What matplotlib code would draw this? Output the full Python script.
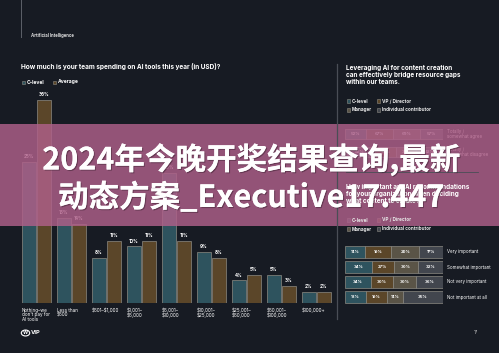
import matplotlib
matplotlib.use('Agg')
from matplotlib import pyplot as plt
from matplotlib.patches import Rectangle, Circle
import matplotlib.patheffects as pe
import numpy as np

# left chart: team spending on AI tools
categories = ['Nothing\u2013we\ndon\'t pay for\nAI tools', 'Less than\n\\$500', '\\$501\u2013\\$1,000',
              '\\$1,001\u2013\n\\$5,000', '\\$5,001\u2013\n\\$10,000', '\\$10,001\u2013\n\\$25,000',
              '\\$25,001\u2013\n\\$50,000', '\\$50,001\u2013\n\\$100,000', '\\$100,000+']
clevel = [25, 15, 8, 10, 23, 9, 4, 5, 2]
average = [36, 14, 11, 11, 11, 8, 5, 3, 2]

# right charts
roles = ['C-level', 'VP / Director', 'Manager', 'Individual contributor']
agree_rows = ['Totally /\nsomewhat agree', 'Totally /\nsomewhat disagree']
agree_vals = [[52, 67, 69, 57], [48, 33, 31, 43]]
importance_rows = ['Very important', 'Somewhat important', 'Not very important', 'Not important at all']
importance_vals = [[14, 19, 20, 17], [34, 27, 30, 32], [34, 30, 30, 36], [18, 19, 14, 35]]

W, H = 499, 353
BG = '#171b23'
TEAL = '#2e535e'
BROWN = '#5b4629'
MGR = '#5a5447'
IC = '#42464e'
role_colors = [TEAL, BROWN, MGR, IC]
EDGE = '#8c8a82'
FONT = 'Inter'

fig = plt.figure(figsize=(W / 100, H / 100), dpi=100, facecolor=BG)


def px(x, y):
    return x / W, 1 - y / H


def add_ax(x0, y0, x1, y1):
    # pixel box (top-left origin) -> axes
    ax = fig.add_axes([x0 / W, 1 - y1 / H, (x1 - x0) / W, (y1 - y0) / H])
    ax.set_facecolor('none')
    ax.axis('off')
    return ax


def txt(x, y, s, size, **kw):
    kw.setdefault('color', 'white')
    kw.setdefault('family', FONT)
    fig.text(*px(x, y), s, fontsize=size, **kw)


# header
fig.add_artist(plt.Line2D([21 / W, 21 / W], [1, 1 - 37 / H], color='#5d6169', lw=0.7))
txt(31, 35, 'Artificial Intelligence', 3.1, va='center', weight='bold', color='#d8d8d8')

# ---- left chart ----
txt(21, 66, 'How much is your team spending on AI tools this year (in USD)?', 4.7,
    va='center', weight='bold')
for i, (lab, col) in enumerate(zip(['C-level', 'Average'], [TEAL, BROWN])):
    x = 22 + i * 31
    fig.add_artist(Rectangle(px(x, 84), 3.2 / W, 3.2 / H, facecolor=col, edgecolor=EDGE, lw=0.4))
    txt(x + 5, 82, lab, 3.6, va='center', weight='bold')

ax = add_ax(22, 95, 335, 303)
x = np.arange(len(categories))
ax.bar(x, clevel, width=0.4, align='edge', color=TEAL, edgecolor=EDGE, linewidth=0.5)
ax.bar(x + 0.43, average, width=0.4, align='edge', color=BROWN, edgecolor=EDGE, linewidth=0.5)
ax.set_xlim(0, 8.95)
ax.set_ylim(0, 36.8)
for i in range(len(categories)):
    ax.text(i + 0.2, clevel[i] + 0.5, f'{clevel[i]}%', ha='center', va='bottom', color='white',
            fontsize=3.3, weight='bold', family=FONT)
    ax.text(i + 0.63, average[i] + 0.5, f'{average[i]}%', ha='center', va='bottom', color='white',
            fontsize=3.3, weight='bold', family=FONT)
    ax.text(i, -0.8, categories[i], ha='left', va='top', color='white', fontsize=3.3,
            family=FONT, linespacing=0.95)

# divider
fig.add_artist(plt.Line2D([337 / W, 337 / W], [1 - 64 / H, 1 - 319 / H], color='#4a4e56', lw=0.9))


def legend4(y):
    for k, r in enumerate(roles):
        xx = 347 + (k % 2) * 30
        yy = y + (k // 2) * 9
        fig.add_artist(Rectangle(px(xx, yy + 1.6), 3.2 / W, 3.2 / H, facecolor=role_colors[k],
                                 edgecolor=EDGE, lw=0.4))
        txt(xx + 5, yy, r, 3.4, va='center', weight='bold', color='#e6e6e6')


def stacked(ax, rows, vals, height):
    for r, row in enumerate(vals):
        frac = np.array(row) / sum(row)
        left = np.concatenate([[0], np.cumsum(frac)[:-1]])
        ax.barh(r, frac, left=left, height=height, color=role_colors, edgecolor=EDGE, linewidth=0.5)
        for lft, f, v in zip(left, frac, row):
            ax.text(lft + f / 2, r, f'{v}%', ha='center', va='center', color='white',
                    fontsize=3.0, weight='bold', family=FONT)
        ax.text(1.04, r, rows[r], ha='left', va='center', color='white', fontsize=3.2,
                family=FONT, linespacing=0.95)
    ax.set_xlim(0, 1)
    ax.set_ylim(len(vals) - 0.5, -0.5)


# ---- right chart 1 ----
txt(346, 75, 'Leveraging AI for content creation\ncan effectively bridge resource gaps\nwithin our teams.',
    4.6, va='center', weight='bold', linespacing=1.25)
legend4(101)
ax1 = add_ax(345, 125, 443, 161)
stacked(ax1, agree_rows, agree_vals, 0.56)
fig.add_artist(plt.Line2D([346 / W, 478 / W], [1 - 172 / H] * 2, color='#4a4e56', lw=0.6))

# ---- right chart 2 ----
txt(346, 194, 'How important are AI recommendations\nfor your organization when deciding\nwhat content to create?',
    4.6, va='center', weight='bold', linespacing=1.25)
legend4(220)
ax2 = add_ax(345, 244.5, 443, 304.5)
stacked(ax2, importance_rows, importance_vals, 0.75)

# footer
fig.add_artist(Circle(px(25.5, 333), 4.2 / W, transform=fig.transFigure, facecolor='none',
                      edgecolor='white', lw=0.8))
txt(25.5, 333, 'W', 3.6, ha='center', va='center', weight='bold')
txt(30.5, 333, 'VIP', 4.2, va='center', weight='bold')
txt(474, 333, '17', 3.2, va='center', color='#cfcfcf')

# overlay band
fig.add_artist(Rectangle(px(0, 226), 1, 102 / H, transform=fig.transFigure,
                         facecolor='#b0608a', alpha=0.82, lw=0))
shadow = [pe.withSimplePatchShadow(offset=(0.8, -0.8), shadow_rgbFace='#3a2030', alpha=0.5), pe.Normal()]
for s, y in [('2024年今晚开奖结果查询,最新', 160), ('动态方案_Executive17.447', 198)]:
    t = fig.text(*px(251, y), s, fontsize=22, color='white', weight='bold', ha='center', va='center',
                 family=['Noto Sans CJK SC', 'DejaVu Sans'])
    t.set_path_effects(shadow)

fig.savefig('out.png', dpi=100, facecolor=BG)
